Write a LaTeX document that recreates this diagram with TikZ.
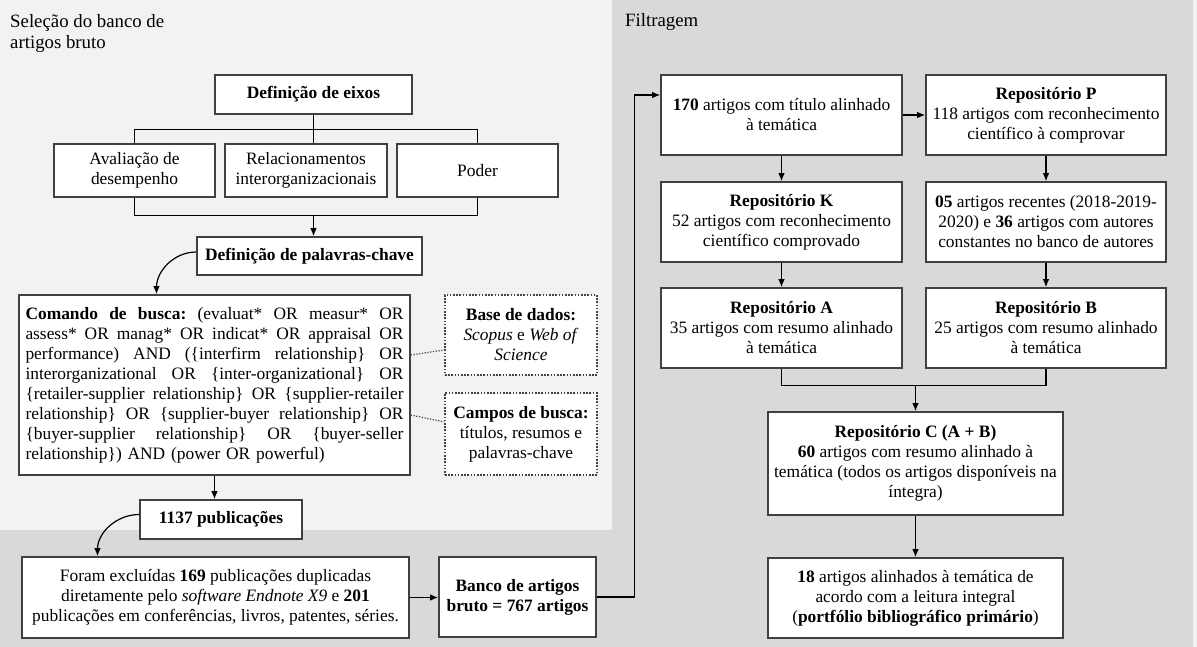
\documentclass[tikz,border=0pt]{standalone}
\usepackage{fontspec}
\setmainfont{Liberation Serif}
\usepackage{tikz}
\usetikzlibrary{arrows.meta}

\definecolor{panelgray}{RGB}{217,217,217}
\definecolor{panellight}{RGB}{242,242,242}
\definecolor{boxline}{RGB}{64,64,64}

% linha justificada do comando de busca
\newcommand{\jline}[1]{\leavevmode{\spaceskip=0.25em plus 1fil\xspaceskip=0.25em plus 1fil\hbox to 378pt{#1}}}

\begin{document}
\begin{tikzpicture}[x=1pt, y=1pt, node distance=106pt]

    \tikzstyle{box} = [rectangle, draw=boxline, fill=white, line width=1.6pt, align=center, inner sep=3pt, font=\fontsize{17.4}{20}\selectfont]
    \tikzstyle{dotbox} = [box, dash pattern=on 1.6pt off 1.6pt]
    \tikzstyle{arrow} = [line width=1.2pt, ->, >={Latex[length=8pt,width=6.5pt]}]
    \tikzstyle{link} = [line width=1.2pt]
    \tikzstyle{dotlink} = [line width=1.2pt, dash pattern=on 1.2pt off 1.6pt, draw=boxline]
    \tikzstyle{paneltitle} = [anchor=north west, inner sep=0pt, align=left, font=\fontsize{18.8}{21.5}\selectfont]

    % fundo
    \useasboundingbox (0,0) rectangle (1197,-647);
    \fill[panelgray] (0,0) rectangle (1197,-647);
    \fill[panellight] (0,0) rectangle (612,-530);
    \fill[panellight] (1193,0) rectangle (1197,-647);
    \node (tsel) [paneltitle] at (10,-14) {Seleção do banco de\\artigos bruto};
    \node (tfil) [paneltitle] at (625,-13) {Filtragem};

    % selecao do banco de artigos bruto
    \node (eixos) [box, minimum width=197pt, minimum height=39pt] at (313.5,-94.5) {\textbf{Definição de eixos}};
    \node (relac) [box, below of=eixos, xshift=-7.5pt, yshift=30pt, minimum width=162pt, minimum height=53pt] {Relacionamentos\\interorganizacionais};
    \node (aval) [box, left of=relac, xshift=-65.5pt, minimum width=161pt, minimum height=53pt] {Avaliação de\\desempenho};
    \node (poder) [box, right of=relac, xshift=65.5pt, minimum width=161pt, minimum height=53pt] {Poder};
    \node (palavras) [box, below of=relac, xshift=3.5pt, yshift=20.5pt, minimum width=225pt, minimum height=38pt] {\textbf{Definição de palavras-chave}};
    \node (comando) [box, below of=palavras, xshift=-95pt, yshift=-23pt, text width=378pt, align=left, inner xsep=6.5pt, minimum height=180pt] {\jline{\textbf{Comando de busca:} (evaluat* OR measur* OR}\\
        \jline{assess* OR manag* OR indicat* OR appraisal OR}\\
        \jline{performance) AND (\{interfirm relationship\} OR}\\
        \jline{interorganizational OR \{inter-organizational\} OR}\\
        \jline{\{retailer-supplier relationship\} OR \{supplier-retailer}\\
        \jline{relationship\} OR \{supplier-buyer relationship\} OR}\\
        \jline{\{buyer-supplier relationship\} OR \{buyer-seller}\\
        relationship\}) AND (power OR powerful)};
    \node (base) [dotbox, right of=comando, xshift=200.5pt, yshift=50pt, minimum width=152pt, minimum height=80pt] {\textbf{Base de dados:}\\\textit{Scopus} e \textit{Web of}\\\textit{Science}};
    \node (campos) [dotbox, below of=base, yshift=7pt, minimum width=152pt, minimum height=82pt] {\textbf{Campos de busca:}\\títulos, resumos e\\palavras-chave};
    \node (n1137) [box, below of=comando, xshift=6.5pt, yshift=-28.5pt, minimum width=162pt, minimum height=39pt] {\textbf{1137 publicações}};
    \node (foram) [box, below of=n1137, xshift=-5.5pt, yshift=28pt, minimum width=387pt, minimum height=81pt] {Foram excluídas \textbf{169} publicações duplicadas\\diretamente pelo \textit{software Endnote X9} e \textbf{201}\\publicações em conferências, livros, patentes, séries.};
    \node (banco) [box, right of=foram, xshift=196pt, yshift=0.5pt, minimum width=157pt, minimum height=80pt] {\textbf{Banco de artigos}\\\textbf{bruto = 767 artigos}};

    % filtragem
    \node (n170) [box, minimum width=241pt, minimum height=80pt] at (781.5,-115) {\textbf{170} artigos com título alinhado\\à temática};
    \node (repP) [box, right of=n170, xshift=158.5pt, minimum width=240pt, minimum height=80pt] {\textbf{Repositório P}\\118 artigos com reconhecimento\\científico à comprovar};
    \node (repK) [box, below of=n170, yshift=-1pt, minimum width=241pt, minimum height=80pt] {\textbf{Repositório K}\\52 artigos com reconhecimento\\científico comprovado};
    \node (n05) [box, below of=repP, yshift=-1pt, minimum width=240pt, minimum height=80pt] {\textbf{05} artigos recentes (2018-2019-\\2020) e \textbf{36} artigos com autores\\constantes no banco de autores};
    \node (repA) [box, below of=repK, minimum width=241pt, minimum height=80pt] {\textbf{Repositório A}\\35 artigos com resumo alinhado\\à temática};
    \node (repB) [box, below of=n05, minimum width=240pt, minimum height=80pt] {\textbf{Repositório B}\\25 artigos com resumo alinhado\\à temática};
    \node (repC) [box, below of=repA, xshift=134pt, yshift=-29.5pt, minimum width=295pt, minimum height=103pt] {\textbf{Repositório C (A + B)}\\\textbf{60} artigos com resumo alinhado à\\temática (todos os artigos disponíveis na\\íntegra)};
    \node (n18) [box, below of=repC, yshift=-28.5pt, minimum width=295pt, minimum height=80pt] {\textbf{18} artigos alinhados à temática de\\acordo com a leitura integral\\(\textbf{portfólio bibliográfico primário})};

    \draw [link] (eixos.south) -- (eixos.south |- relac.north);
    \draw [link] (aval.north) -- ++(0,14) -| (poder.north);
    \draw [link] (aval.south) -- ++(0,-18) coordinate (juncao) -| (poder.south);
    \draw [arrow] (juncao -| eixos.south) -- (palavras.north -| eixos.south);
    \draw [arrow] ([yshift=4pt]palavras.west) to[out=180, in=90] ([xshift=-58pt]comando.north);
    \draw [dotlink] ([yshift=30pt]comando.east) -- ([yshift=-15pt]base.west);
    \draw [dotlink] ([yshift=-30pt]comando.east) -- ([yshift=12pt]campos.west);
    \draw [arrow] (comando.south) -- (comando.south |- n1137.north);
    \draw [arrow] ([yshift=5pt]n1137.west) to[out=180, in=90] ([xshift=-118pt]foram.north);
    \draw [arrow] (foram.east) -- (foram.east -| banco.west);
    \draw [arrow] (banco.east) -- ++(38,0) |- ([yshift=20pt]n170.west);
    \draw [arrow] (n170.east) -- (repP.west);
    \draw [arrow] (n170) -- (repK);
    \draw [arrow] (repK) -- (repA);
    \draw [arrow] (repP) -- (n05);
    \draw [arrow] (n05) -- (repB);
    \draw [link] (repA.south) -- ++(0,-17) coordinate (juncaoAB) -| (repB.south);
    \draw [arrow] (juncaoAB -| repC.north) -- (repC.north);
    \draw [arrow] (repC) -- (n18);
\end{tikzpicture}
\end{document}
